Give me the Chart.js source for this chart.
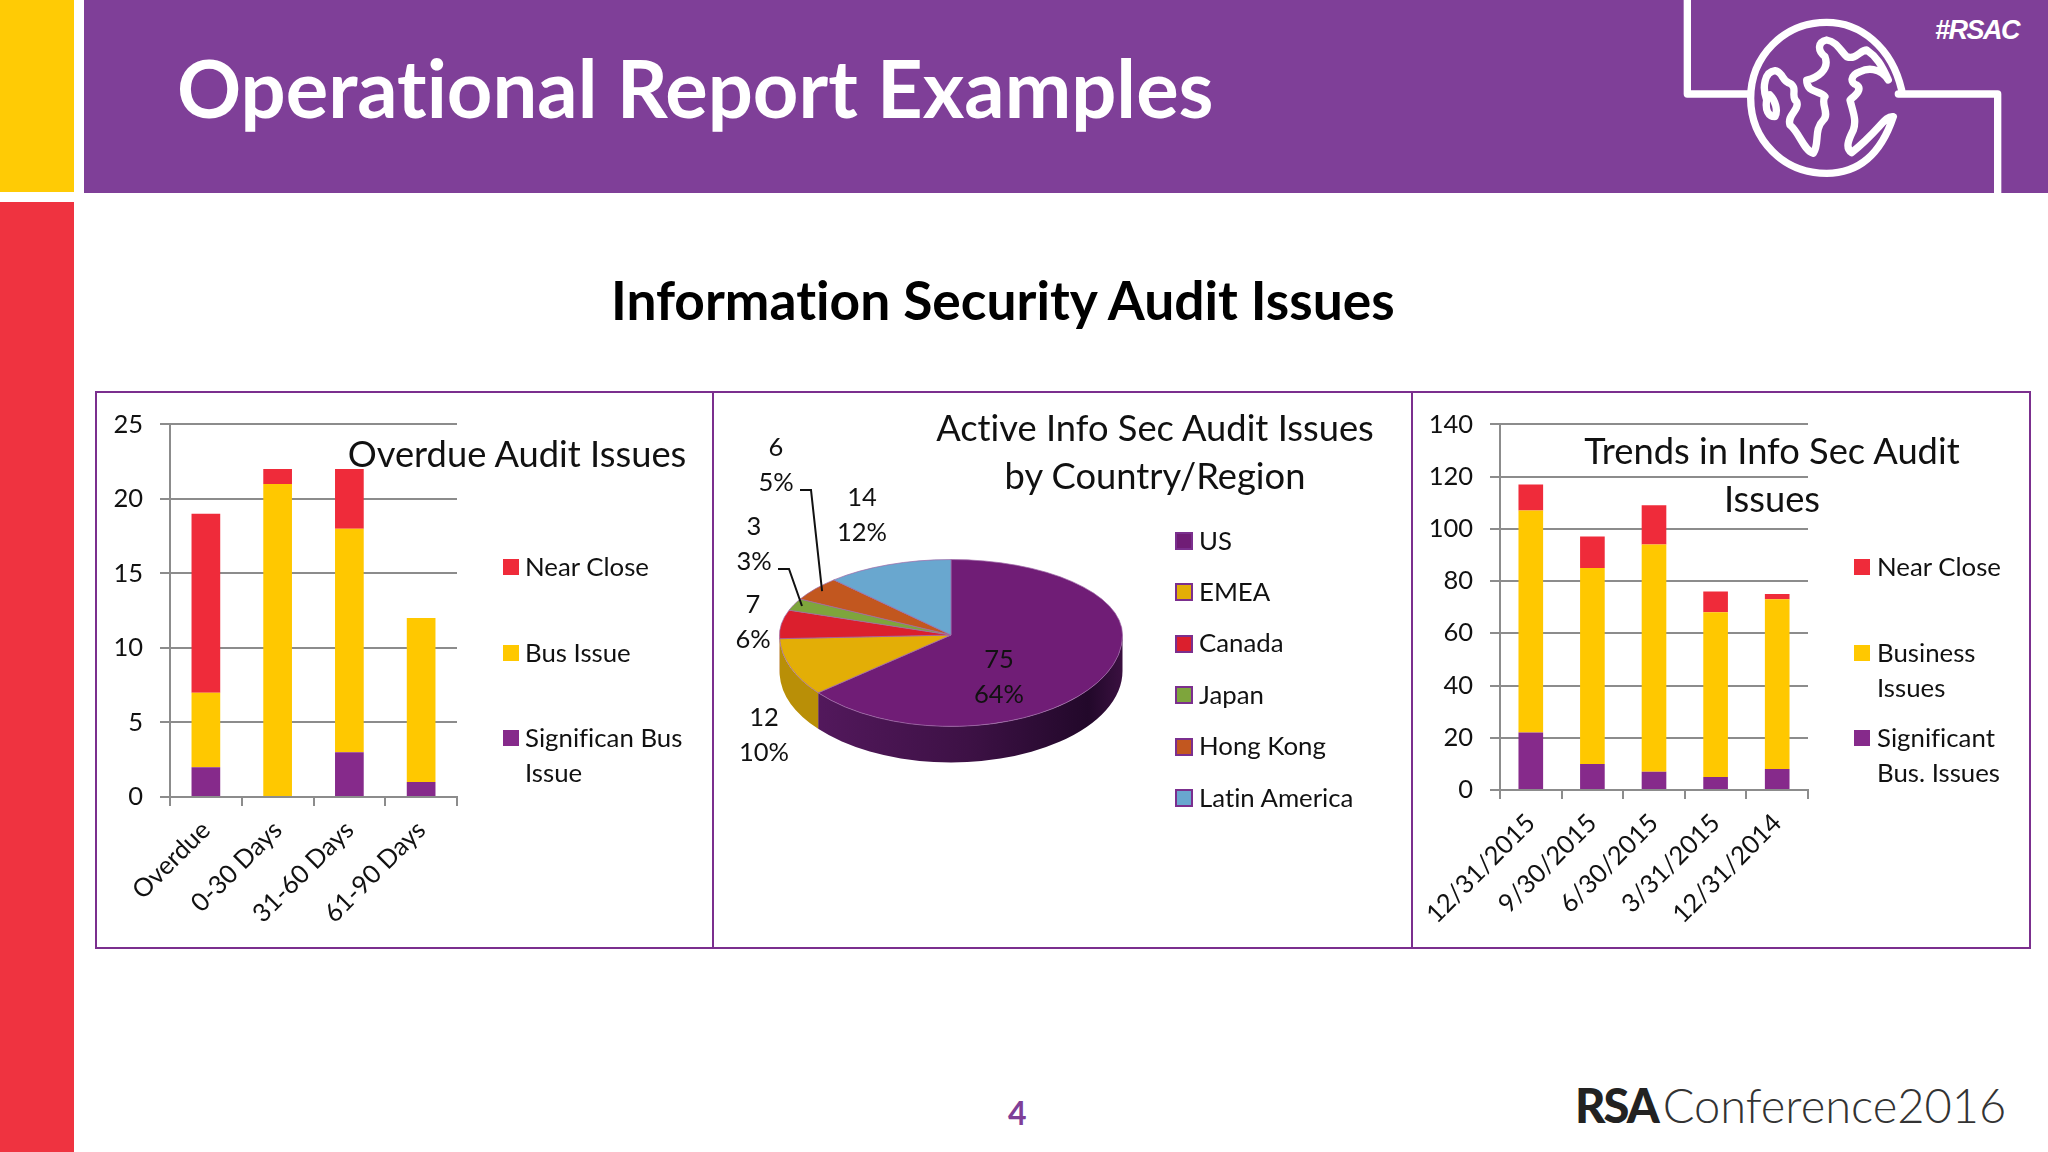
<!DOCTYPE html>
<html>
<head>
<meta charset="utf-8">
<title>Operational Report Examples</title>
<script src="https://cdn.jsdelivr.net/npm/chart.js@4"></script>
<style>
  html, body { margin: 0; padding: 0; background: #fff; }
  #slide { position: relative; width: 2048px; height: 1152px; overflow: hidden; font-family: Lato, sans-serif; color: #111; font-variant-ligatures: none; }
  #slide div, #slide canvas, #slide svg { position: absolute; }
  .block { background: #7f3f98; }
  .frame { border: 2.5px solid #7b2f8e; box-sizing: border-box; background: #fff; }
  .chartTitle { font-size: 36.3px; line-height: 48px; text-align: center; white-space: nowrap; transform: translateX(-50%); }
  .legendText { font-size: 25.8px; line-height: 35px; white-space: nowrap; }
</style>
</head>
<body>
<div id="slide">
  <div style="left:0;top:0;width:74px;height:192px;background:#ffcb05"></div>
  <div style="left:0;top:202px;width:74px;height:950px;background:#ef3340"></div>
  <div class="block" style="left:84px;top:0;width:1964px;height:193px"></div>
  <div style="left:177px;top:44px;color:#fff;font-weight:700;font-size:79.5px;line-height:88px;white-space:nowrap">Operational Report Examples</div>
  <div style="left:1935px;top:15px;color:#fff;font:italic 700 27px 'Liberation Sans';letter-spacing:-1.5px">#RSAC</div>
  <svg style="left:1650px;top:0" width="398" height="210" viewBox="0 0 1194 630" fill="none" stroke="#fff" stroke-width="22" stroke-linejoin="round" stroke-linecap="round">
    <path d="M112 0V282H300M745 282H1043V578"/>
    <path d="M755 270C725 140 630 67 530 67C400 67 302 170 302 295C302 420 400 520 530 520C620 520 690 470 730 350C705 345 690 390 605 458C585 445 595 420 610 390C620 360 610 340 600 300C610 290 640 270 620 255C600 250 600 225 630 215C650 205 690 200 715 240C695 195 680 170 650 150C630 150 620 180 590 170C570 150 560 125 530 120C505 125 500 150 525 170C540 210 500 235 470 240C470 280 510 270 525 290C510 310 540 340 520 360C490 390 510 430 490 460C460 450 450 400 420 375C410 345 450 330 440 305C420 290 445 265 420 250C395 245 400 215 375 212C345 215 335 260 350 300C345 330 355 350 375 350C385 330 375 300 360 285"/>
  </svg>
  <div style="left:611px;top:269px;font-weight:700;font-size:53.3px;line-height:60px;white-space:nowrap;color:#000">Information Security Audit Issues</div>

  <div class="frame" style="left:95px;top:391px;width:620px;height:558px"></div>
  <div class="frame" style="left:712px;top:391px;width:702px;height:558px"></div>
  <div class="frame" style="left:1411px;top:391px;width:620px;height:558px"></div>

  <canvas id="overdueChart" width="616" height="556" style="left:96px;top:392px"></canvas>
  <canvas id="countryChart" width="696" height="556" style="left:713px;top:392px"></canvas>
  <canvas id="trendChart" width="616" height="556" style="left:1412px;top:392px"></canvas>

  <div class="chartTitle" style="left:517px;top:429px">Overdue Audit Issues</div>
  <div class="chartTitle" style="left:1155px;top:403px">Active Info Sec Audit Issues<br>by Country/Region</div>
  <div class="chartTitle" style="left:1772px;top:426px">Trends in Info Sec Audit<br>Issues</div>

  <div style="left:1008px;top:1093px;font-weight:700;font-size:32px;line-height:40px;color:#7f3f98">4</div>
  <div style="left:1575px;top:1076px;font-size:47px;line-height:58px;font-weight:300;white-space:nowrap;color:#333"><span style="font-weight:900;color:#222;letter-spacing:-2px;margin-right:5px">RSA</span>Conference2016</div>
</div>

<script>
const overdueCategories = ['Overdue', '0-30 Days', '31-60 Days', '61-90 Days']
const overdueSignificant = [2, 0, 3, 1]
const overdueBus = [5, 21, 15, 11]
const overdueNear = [12, 1, 4, 0]
const overdueTicks = [0, 5, 10, 15, 20, 25]

const regions = ['US', 'EMEA', 'Canada', 'Japan', 'Hong Kong', 'Latin America']
const regionIssues = [75, 12, 7, 3, 6, 14]

const trendDates = ['12/31/2015', '9/30/2015', '6/30/2015', '3/31/2015', '12/31/2014']
const trendSignificant = [22, 10, 7, 5, 8]
const trendBusiness = [85, 75, 87, 63, 65]
const trendNear = [10, 12, 15, 8, 2]
const trendTicks = [0, 20, 40, 60, 80, 100, 120, 140]

const RED = '#ef2b3a'
const YELLOW = '#ffc800'
const PURPLE = '#862a8b'
const GRID = '#8c8c8c'
const FONT = { family: 'Lato', size: 25.5 }
const regionColors = ['#701d76', '#e3ae06', '#db1f2d', '#7ea53c', '#c2571f', '#69a7cf']
const regionWalls = ['#3d1145', '#b98f07', '#a01722', '#5c7a2b', '#8e4017', '#4d7a97']

function stackedBars(id, categories, ticks, sets, padding, axisWidth, axisHeight) {
    return new Chart(document.getElementById(id), {
        type: 'bar',
        data: {
            labels: categories,
            datasets: sets.map(s => ({
                label: s[0],
                data: s[1],
                backgroundColor: s[2],
                barPercentage: 0.4,
                categoryPercentage: 1
            }))
        },
        options: {
            responsive: false,
            animation: false,
            layout: { autoPadding: false, padding: padding },
            plugins: { legend: { display: false }, tooltip: { enabled: false } },
            scales: {
                x: {
                    stacked: true,
                    afterFit: s => { s.height = axisHeight },
                    grid: { drawOnChartArea: false, color: GRID, lineWidth: 2, tickLength: 9 },
                    border: { color: GRID, width: 2 },
                    ticks: { font: FONT, color: '#111', minRotation: 45, maxRotation: 45, autoSkip: false, padding: 9 }
                },
                y: {
                    stacked: true,
                    min: 0,
                    max: ticks[ticks.length - 1],
                    afterFit: s => { s.width = axisWidth },
                    afterBuildTicks: s => { s.ticks = ticks.map(v => ({ value: v })) },
                    grid: { color: GRID, lineWidth: 2, tickLength: 10 },
                    border: { color: GRID, width: 2 },
                    ticks: { font: FONT, color: '#111', padding: 17 }
                }
            }
        }
    })
}

stackedBars('overdueChart', overdueCategories, overdueTicks, [
    ['Significan Bus Issue', overdueSignificant, PURPLE],
    ['Bus Issue', overdueBus, YELLOW],
    ['Near Close', overdueNear, RED]
], { top: 31.5, right: 255, bottom: 0, left: 0 }, 74, 151)

stackedBars('trendChart', trendDates, trendTicks, [
    ['Significant Bus. Issues', trendSignificant, PURPLE],
    ['Business Issues', trendBusiness, YELLOW],
    ['Near Close', trendNear, RED]
], { top: 31.5, right: 220, bottom: 0, left: 0 }, 88, 158)

// pie squashed into a tilted disc: the top half is flatter than the front half
const pie3d = {
    id: 'pie3d',
    beforeDatasetDraw(chart, args, opts) {
        const ctx = chart.ctx
        const arcs = args.meta.data
        const cx = arcs[0].x
        const cy = arcs[0].y
        const r = arcs[0].outerRadius
        const ryFront = r * opts.front
        const wallGrad = ctx.createLinearGradient(cx - r, 0, cx + r, 0)
        wallGrad.addColorStop(0, '#581a62')
        wallGrad.addColorStop(0.55, '#3d1145')
        wallGrad.addColorStop(0.9, '#22082a')
        wallGrad.addColorStop(1, '#3a1040')

        arcs.forEach((arc, i) => {
            const a0 = Math.max(arc.startAngle, 0)
            const a1 = Math.min(arc.endAngle, Math.PI)
            if (a1 <= a0) return
            ctx.beginPath()
            ctx.ellipse(cx, cy, r, ryFront, 0, a0, a1)
            ctx.ellipse(cx, cy + opts.depth, r, ryFront, 0, a1, a0, true)
            ctx.closePath()
            ctx.fillStyle = i === 0 ? wallGrad : regionWalls[i]
            ctx.fill()
        })

        const half = (top, ky) => {
            ctx.save()
            ctx.beginPath()
            ctx.rect(0, top ? 0 : cy, chart.width, top ? cy : chart.height - cy)
            ctx.clip()
            ctx.translate(0, cy)
            ctx.scale(1, ky)
            ctx.translate(0, -cy)
            args.meta.controller.draw()
            ctx.restore()
        }
        half(true, opts.back)
        half(false, opts.front)
        return false
    },
    afterDatasetsDraw(chart, args, opts) {
        const ctx = chart.ctx
        const arcs = chart.getDatasetMeta(0).data
        const total = regionIssues.reduce((a, b) => a + b, 0)
        ctx.save()
        ctx.font = '25.5px Lato'
        ctx.fillStyle = '#111'
        ctx.textAlign = 'center'
        ctx.textBaseline = 'middle'
        arcs.forEach((arc, i) => {
            const spot = opts.labelSpots[i]
            const x = arc.x + spot[0]
            const y = arc.y + spot[1]
            ctx.fillText(String(regionIssues[i]), x, y - 17.5)
            ctx.fillText(Math.round(regionIssues[i] / total * 100) + '%', x, y + 17.5)
            const elbow = opts.leaders[i]
            if (!elbow) return
            const mid = (arc.startAngle + arc.endAngle) / 2
            const reach = arc.outerRadius * 0.95
            ctx.beginPath()
            ctx.moveTo(arc.x + elbow[0] - 11, arc.y + elbow[1])
            ctx.lineTo(arc.x + elbow[0], arc.y + elbow[1])
            ctx.lineTo(arc.x + Math.cos(mid) * reach, arc.y + Math.sin(mid) * reach * opts.back)
            ctx.strokeStyle = '#111'
            ctx.lineWidth = 2
            ctx.stroke()
        })
        ctx.restore()
    }
}

new Chart(document.getElementById('countryChart'), {
    type: 'pie',
    data: {
        labels: regions,
        datasets: [{ data: regionIssues, backgroundColor: regionColors, borderColor: '#a06aa8', borderWidth: 1 }]
    },
    plugins: [pie3d],
    options: {
        responsive: false,
        animation: false,
        layout: { padding: { left: 66, right: 286, top: 71, bottom: 141 } },
        plugins: {
            legend: { display: false },
            tooltip: { enabled: false },
            pie3d: {
                back: 0.44,
                front: 0.533,
                depth: 36,
                // label centres and leader elbows, relative to the pie centre
                labelSpots: [[48, 42], [-187, 100], [-198, -13], [-197, -91], [-175, -170], [-89, -120]],
                leaders: [null, null, null, [-162, -66], [-140, -145], null]
            }
        }
    }
})

function addLegend(left, textLeft, items, swatch, bordered) {
    const slide = document.getElementById('slide')
    items.forEach(item => {
        const box = document.createElement('div')
        box.style.cssText = 'left:' + left + 'px;top:' + (item.y - swatch / 2) + 'px;width:' + swatch + 'px;height:' + swatch + 'px;background:' + item.color +
            (bordered ? ';border:2px solid #7b2f8e;box-sizing:border-box' : '')
        slide.appendChild(box)
        const text = document.createElement('div')
        text.className = 'legendText'
        text.style.cssText = 'left:' + textLeft + 'px;top:' + (item.y - 18.5) + 'px'
        text.innerHTML = item.lines.join('<br>')
        slide.appendChild(text)
    })
}

addLegend(503, 525, [
    { lines: ['Near Close'], color: RED, y: 567 },
    { lines: ['Bus Issue'], color: YELLOW, y: 653 },
    { lines: ['Significan Bus', 'Issue'], color: PURPLE, y: 738 }
], 16, false)

addLegend(1854, 1877, [
    { lines: ['Near Close'], color: RED, y: 567 },
    { lines: ['Business', 'Issues'], color: YELLOW, y: 653 },
    { lines: ['Significant', 'Bus. Issues'], color: PURPLE, y: 738 }
], 16, false)

addLegend(1175, 1199, regions.map((name, i) => ({ lines: [name], color: regionColors[i], y: 541 + i * 51.4 })), 18, true)
</script>
</body>
</html>
